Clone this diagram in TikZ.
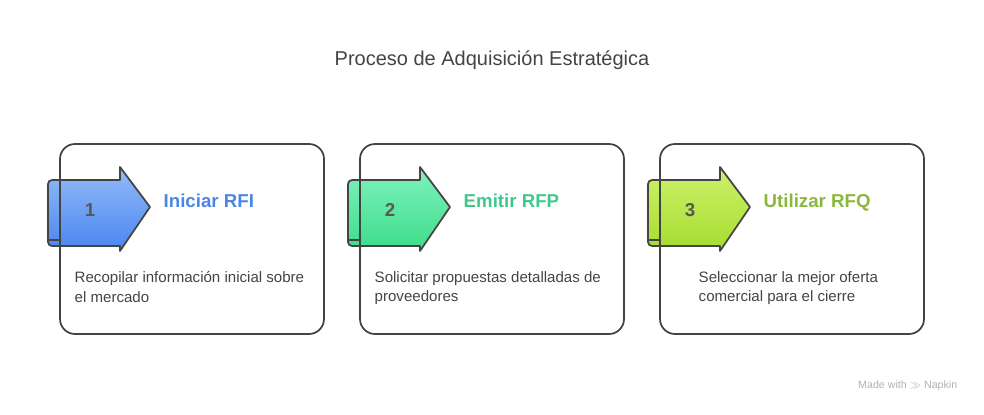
\documentclass[tikz,border=0pt]{standalone}
\usepackage{fontspec}
\setmainfont{Liberation Sans}
\usetikzlibrary{shapes.geometric}
\definecolor{bA}{HTML}{93BBF8}\definecolor{bB}{HTML}{4A86F0}\definecolor{bT}{HTML}{4A86E8}
\definecolor{gA}{HTML}{7FF2BE}\definecolor{gB}{HTML}{3DDC8A}\definecolor{gT}{HTML}{3EC98A}
\definecolor{lA}{HTML}{CDF26A}\definecolor{lB}{HTML}{A6DC30}\definecolor{lT}{HTML}{8AB83A}
\definecolor{edge}{HTML}{444444}\definecolor{txt}{HTML}{444444}
\tikzset{
 card/.style={draw=edge,line width=1.3pt,rounded corners=15*0.75pt},
 arr/.style={draw=edge,line width=1.3pt,line join=round},
 num/.style={text=txt!90,font=\fontsize{14}{16}\selectfont\bfseries},
 ttl/.style={anchor=base west,font=\fontsize{14}{16}\selectfont\bfseries},
 desc/.style={anchor=north west,align=left,text=txt,font=\fontsize{11.3}{14.5}\selectfont}
}
\begin{document}
\begin{tikzpicture}[x=0.75pt,y=-0.75pt]
\useasboundingbox (0,0) rectangle (984,414);
\node[text=txt,font=\fontsize{15}{18}\selectfont] (title) at (492,60) {Proceso de Adquisición Estratégica};
\foreach \i/\ox/\ca/\cb/\ct/\n/\t/\dx/\d in {
 1/0/bA/bB/bT/1/Iniciar RFI/0/{Recopilar información inicial sobre\\el mercado},
 2/300/gA/gB/gT/2/Emitir RFP/0/{Solicitar propuestas detalladas de\\proveedores},
 3/600/lA/lB/lT/3/Utilizar RFQ/24/{Seleccionar la mejor oferta\\comercial para el cierre}}{
 \begin{scope}[xshift=\ox*0.75pt]
 \shade[top color=\ca,bottom color=\cb,arr] (52,180) -- (120,180) -- (120,167) -- (150,207) -- (120,251) -- (120,246) -- (52,246) to[out=180,in=-90] (48,242) -- (48,184) to[out=90,in=180] (52,180) -- cycle;
 \draw[arr,line width=0.8pt] (48,240) -- (60,240);
 \draw[card] (60,144) rectangle (324,334);
 \node[num] (n\i) at (90,210) {\n};
 \node[ttl,text=\ct] (t\i) at (159,207) {\t};
 \node[desc] (d\i) at (70+\dx,267) {\d};
 \end{scope}}
\node[anchor=east,text=gray!60,font=\fontsize{8}{10}\selectfont] (wm) at (962,386) {Made with $\gg$ Napkin};
\end{tikzpicture}
\end{document}
